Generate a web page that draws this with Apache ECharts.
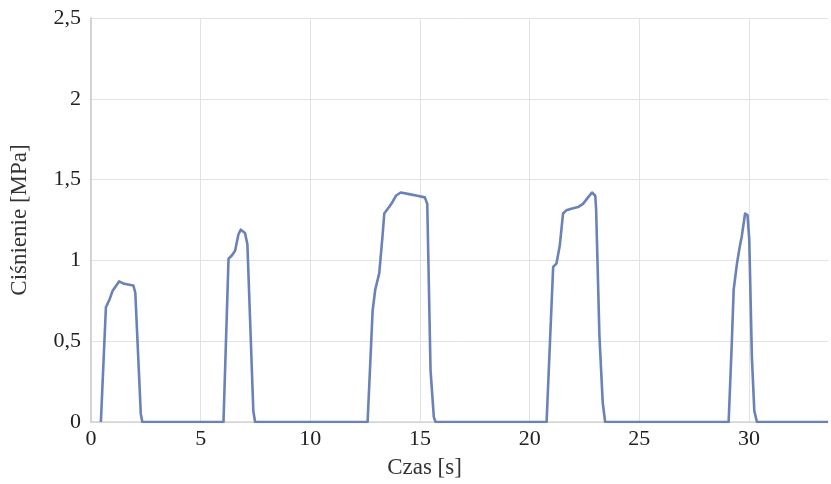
<!DOCTYPE html>
<html><head><meta charset="utf-8">
<script src="https://cdn.jsdelivr.net/npm/echarts@6/dist/echarts.min.js"></script>
<style>html,body{margin:0;padding:0;background:#fff}#c{width:831px;height:484px}</style>
</head><body><div id="c"></div>
<script>
var time = [0.45, 0.68, 0.85, 0.98, 1.13, 1.28, 1.51, 1.93, 2.02, 2.27, 2.34,
  6.04, 6.27, 6.42, 6.57, 6.72, 6.83, 7.02, 7.13, 7.40, 7.48,
  12.61, 12.84, 12.96, 13.14, 13.29, 13.37, 13.59, 13.74, 13.90, 14.12, 14.50, 14.88, 15.22, 15.33, 15.48, 15.63, 15.71,
  20.77, 21.07, 21.22, 21.37, 21.52, 21.67, 21.90, 22.20, 22.43, 22.66, 22.84, 22.99, 23.03, 23.18, 23.33, 23.44,
  29.07, 29.22, 29.30, 29.45, 29.57, 29.67, 29.82, 29.93, 30.01, 30.13, 30.24, 30.36, 33.6];
var pressure = [0, 0.71, 0.76, 0.81, 0.84, 0.87, 0.855, 0.845, 0.80, 0.05, 0,
  0, 1.01, 1.03, 1.06, 1.16, 1.19, 1.17, 1.10, 0.07, 0,
  0, 0.69, 0.82, 0.92, 1.15, 1.29, 1.33, 1.36, 1.40, 1.42, 1.41, 1.40, 1.39, 1.35, 0.32, 0.03, 0,
  0, 0.96, 0.98, 1.09, 1.29, 1.31, 1.32, 1.33, 1.35, 1.39, 1.42, 1.40, 1.31, 0.53, 0.12, 0,
  0, 0.51, 0.82, 0.98, 1.08, 1.15, 1.29, 1.28, 1.13, 0.40, 0.07, 0, 0];
var xTicks = [0, 5, 10, 15, 20, 25, 30];
var yTicks = [0, 0.5, 1, 1.5, 2, 2.5];
var xName = 'Czas [s]';
var yName = 'Ciśnienie [MPa]';

var data = time.map(function (t, i) { return [t, pressure[i]]; });
var font = '"Liberation Serif", "DejaVu Serif", serif';
var chart = echarts.init(document.getElementById('c'), null, {renderer: 'canvas'});
chart.setOption({
  animation: false,
  grid: {left: 90, right: 0, top: 18, bottom: 62},
  xAxis: {
    type: 'value', min: 0, max: 33.6, interval: 5,
    name: xName, nameLocation: 'middle', nameGap: 34,
    nameTextStyle: {fontFamily: font, fontSize: 23, color: '#333', padding: [0, 70, 0, 0]},
    axisLine: {show: true, lineStyle: {color: '#d3d3d3', width: 1.5}},
    axisTick: {show: false},
    axisLabel: {fontFamily: font, fontSize: 22, color: '#222', margin: 6,
      formatter: function (v) { return xTicks.indexOf(v) >= 0 ? String(v) : ''; }},
    splitLine: {show: true, showMaxLine: false, lineStyle: {color: '#e2e2e2', width: 1}}
  },
  yAxis: {
    type: 'value', min: 0, max: 2.5, interval: 0.5,
    name: yName, nameLocation: 'middle', nameGap: 60, nameRotate: 90,
    nameTextStyle: {fontFamily: font, fontSize: 23, color: '#333'},
    axisLine: {show: true, lineStyle: {color: '#d3d3d3', width: 2}},
    axisTick: {show: false},
    axisLabel: {fontFamily: font, fontSize: 22, color: '#222', margin: 10,
      formatter: function (v) { return yTicks.indexOf(v) >= 0 ? String(v).replace('.', ',') : ''; }},
    splitLine: {show: true, lineStyle: {color: '#e2e2e2', width: 1}}
  },
  series: [{
    type: 'line', data: data, showSymbol: false, smooth: false,
    lineStyle: {color: '#6a82b6', width: 2.6, join: 'round'}
  }]
});
</script></body></html>
